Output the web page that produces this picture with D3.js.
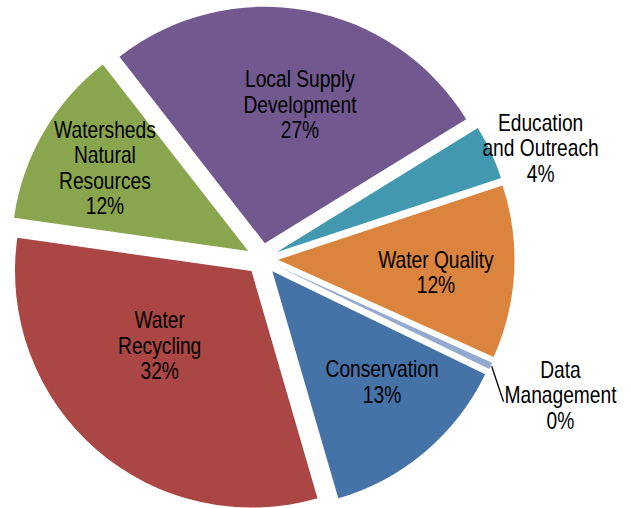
<!DOCTYPE html>
<meta charset="utf-8">

<head>
    <style>
        body {
            margin: 0;
            background: #fff;
        }

        svg {
            display: block;
        }

        text {
            font-family: "Liberation Sans", Arial, sans-serif;
            font-size: 24px;
            fill: #000;
        }

        .leader {
            stroke: #000;
            stroke-width: 1.3;
        }
    </style>
    <script src="https://cdn.jsdelivr.net/npm/d3@7"></script>
</head>

<body>
    <script>
        // data, in the order the slices run clockwise
        const categories = ["Conservation", "Water Recycling", "Watersheds Natural Resources",
            "Local Supply Development", "Education and Outreach", "Water Quality", "Data Management"]
        const values = [13.3, 31.7, 12.2, 26.7, 3.7, 11.8, 0.45]
        const labelLines = [["Conservation"], ["Water", "Recycling"], ["Watersheds", "Natural", "Resources"],
            ["Local Supply", "Development"], ["Education", "and Outreach"], ["Water Quality"], ["Data", "Management"]]
        const colors = ["#4572A7", "#AA4643", "#89A54E", "#71588F", "#4198AF", "#DB843D", "#93A9CF"]

        const width = 631
        const height = 508
        const cx = 262
        const cy = 259
        const radius = 236.5
        const explode = 16
        const lineH = 25.5
        const narrow = 0.8   // no narrow font installed, so squeeze the regular one

        // where each label sits: fraction of radius, nudge from the mid angle (deg)
        const labelPlace = [
            { r: 0.66, a: -4.5 }, { r: 0.5, a: 10 }, { r: 0.70, a: 0 }, { r: 0.605, a: 4 },
            { r: 1.2, a: 3.5 }, { r: 0.67, a: 1.7 }, { r: 1.32, a: -0.5 }
        ]
        const outside = [false, false, false, false, true, false, true]

        const total = d3.sum(values)
        const start = 115.85 * Math.PI / 180

        const pie = d3.pie()
            .sort(null)
            .value(d => d)
            .startAngle(start)
            .endAngle(start + 2 * Math.PI)

        const arc = d3.arc()
            .innerRadius(0)
            .outerRadius(radius)

        const svg = d3.select("body").append("svg")
            .attr("width", width)
            .attr("height", height)

        const arcs = pie(values)

        const slices = svg.selectAll("g.slice")
            .data(arcs)
            .enter()
            .append("g")
            .attr("class", "slice")
            .attr("transform", d => {
                const mid = (d.startAngle + d.endAngle) / 2
                return "translate(" + (cx + explode * Math.sin(mid)) + "," + (cy - explode * Math.cos(mid)) + ")"
            })

        slices.append("path")
            .attr("d", arc)
            .attr("fill", (d, i) => colors[i])

        slices.each(function (d, i) {
            const g = d3.select(this)
            const mid = (d.startAngle + d.endAngle) / 2
            const a = mid + labelPlace[i].a * Math.PI / 180
            const lx = labelPlace[i].r * radius * Math.sin(a)
            const ly = -labelPlace[i].r * radius * Math.cos(a)
            const lines = labelLines[i].concat([Math.round(values[i] / total * 100) + "%"])
            const first = ly - (lines.length - 1) * lineH / 2 + 8

            const t = g.append("text")
                .attr("text-anchor", "middle")
                .attr("transform", "translate(" + lx + ",0) scale(" + narrow + ",1)")
            lines.forEach((s, k) => {
                t.append("tspan")
                    .attr("x", 0)
                    .attr("y", first + k * lineH)
                    .text(s)
            })

            if (outside[i] && values[i] / total < 0.01) {
                const box = t.node().getBBox()
                const r0 = radius + 1
                g.append("line")
                    .attr("class", "leader")
                    .attr("x1", r0 * Math.sin(mid))
                    .attr("y1", -r0 * Math.cos(mid))
                    .attr("x2", lx + box.x * narrow - 1)
                    .attr("y2", first + lineH - 2)
            }
        })
    </script>
</body>
